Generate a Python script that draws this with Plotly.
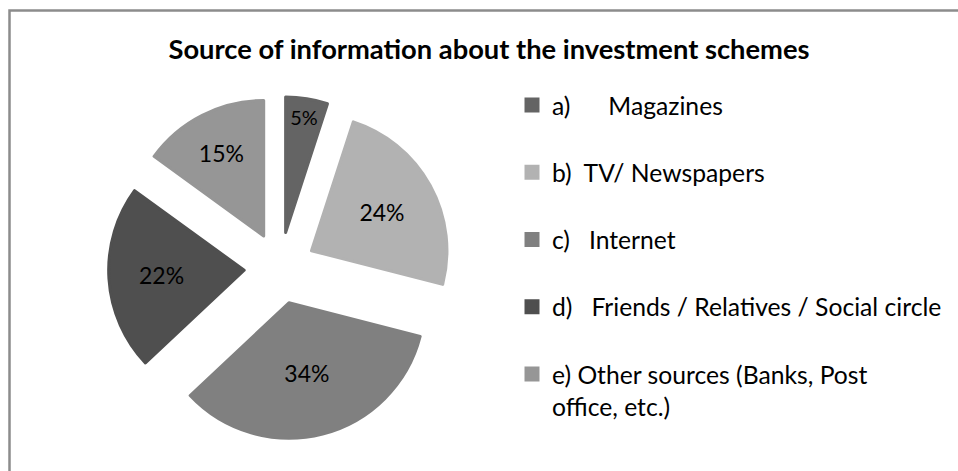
import plotly.graph_objects as go

# Survey shares (percent) for each information source
categories = [
    "a)      Magazines",
    "b)  TV/ Newspapers",
    "c)   Internet",
    "d)   Friends / Relatives / Social circle",
    "e) Other sources (Banks, Post|office, etc.)",
]
shares = [5, 24, 34, 22, 15]
slice_colors = ["#646464", "#b2b2b2", "#808080", "#4f4f4f", "#969696"]
title_text = "Source of information about the investment schemes"

W, H = 958, 471
FONT = "Lato, 'Open Sans', sans-serif"


def legend_label(text):
    # a trailing blank line keeps the single-line entries evenly spaced
    lines = text.split("|")
    body = "<br>".join(lines)
    if len(lines) == 1:
        body += "<br> "
    return body


labels = [legend_label(c) for c in categories]

# pie geometry in pixels
cx, cy, r, pull = 280, 268, 135.5, 0.265
edge = 3  # slice outline in its own colour (also enlarges the legend squares)
half = r * (1 + pull)

fig = go.Figure(
    go.Pie(
        labels=labels,
        values=shares,
        sort=False,
        direction="clockwise",
        rotation=0,
        pull=[pull] * len(shares),
        marker=dict(colors=slice_colors, line=dict(width=edge, color=slice_colors)),
        texttemplate="%{value}%",
        textposition="inside",
        insidetextorientation="horizontal",
        insidetextfont=dict(family=FONT, size=23, color="#000000"),
        hoverinfo="label+percent",
        domain=dict(
            x=[(cx - half) / W, (cx + half) / W],
            y=[1 - (cy + half) / H, 1 - (cy - half) / H],
        ),
    )
)

fig.update_layout(
    width=W,
    height=H,
    margin=dict(l=0, r=0, t=0, b=0),
    paper_bgcolor="#ffffff",
    plot_bgcolor="#ffffff",
    title=dict(
        text=title_text,
        x=489 / W,
        xanchor="center",
        y=1 - 49 / H,
        yanchor="middle",
        font=dict(family=FONT, size=27.3, color="#000000", weight="bold"),
    ),
    legend=dict(
        x=512 / W,
        xanchor="left",
        y=1 - 82.5 / H,
        yanchor="top",
        valign="top",
        font=dict(family=FONT, size=24.7, color="#000000"),
        bgcolor="rgba(0,0,0,0)",
        itemclick=False,
        itemdoubleclick=False,
    ),
    shapes=[
        dict(
            type="rect",
            xref="paper",
            yref="paper",
            x0=9.5 / W,
            x1=1.05,
            y0=-0.05,
            y1=1 - 10.5 / H,
            line=dict(color="#8c8c8c", width=2.5),
            fillcolor="rgba(0,0,0,0)",
        )
    ],
)

fig.write_html("out.html")
